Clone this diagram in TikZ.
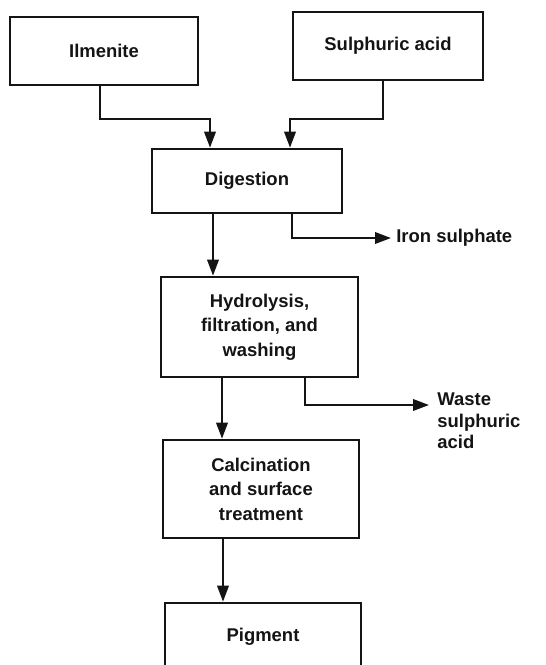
\documentclass[tikz,border=0pt]{standalone}
\usepackage{fontspec}
\setmainfont{Liberation Sans}
\usetikzlibrary{arrows.meta}
\definecolor{ink}{RGB}{20, 20, 20}

\begin{document}
\begin{tikzpicture}[
        stage/.style   = {draw=ink, line width=1.5pt, align=center, inner sep=0pt,
                          font=\fontsize{10.5}{14}\selectfont\bfseries, text=ink},
        product/.style = {align=left, inner sep=0pt,
                          font=\fontsize{10.5}{12.5}\selectfont\bfseries, text=ink},
        flow/.style    = {draw=ink, line width=1.2pt, -{Triangle[length=3.2mm, width=2.3mm]}}
    ]
            \useasboundingbox                                   ( 0.00,  0.00) rectangle ( 10.90, -13.30);
            \node[stage, minimum width=3.76cm, minimum height=1.36cm] (ilm)   at ( 2.08, -1.02) {Ilmenite};
            \node[stage, minimum width=3.80cm, minimum height=1.36cm] (acid)  at ( 7.76, -0.92) {Sulphuric acid};
            \node[stage, minimum width=3.80cm, minimum height=1.28cm] (dig)   at ( 4.94, -3.62) {Digestion};
            \node[stage, minimum width=3.94cm, minimum height=2.00cm] (hyd)   at ( 5.19, -6.54) {Hydrolysis,\\ filtration, and\\ washing};
            \node[stage, minimum width=3.92cm, minimum height=1.96cm] (cal)   at ( 5.22, -9.78) {Calcination\\ and surface\\ treatment};
            \node[stage, minimum width=3.92cm, minimum height=1.36cm] (pig)   at ( 5.26,-12.74) {Pigment};
            \node[product, anchor=west]                               (iron)  at ( 7.92, -4.76) {Iron sulphate};
            \node[product, anchor=north west]                         (waste) at ( 8.74, -7.84) {Waste\\ sulphuric\\ acid};

            \draw[flow] ([xshift=-0.08cm]ilm.south)  -- ++(0,-0.66) -| ([xshift=-0.74cm]dig.north);
            \draw[flow] ([xshift=-0.10cm]acid.south) -- ++(0,-0.76) -| ([xshift= 0.86cm]dig.north);
            \draw[flow] ([xshift=-0.68cm]dig.south)  -- ([xshift=-0.68cm]dig.south |- hyd.north);
            \draw[flow] ([xshift= 0.90cm]dig.south)  |- ([xshift=-0.10cm]iron.west);
            \draw[flow] ([xshift=-0.75cm]hyd.south)  -- ([xshift=-0.75cm]hyd.south |- cal.north);
            \draw[flow] ([xshift= 0.91cm]hyd.south)  |- ([xshift=-0.16cm, yshift=-0.26cm]waste.north west);
            \draw[flow] ([xshift=-0.76cm]cal.south)  -- ([xshift=-0.76cm]cal.south |- pig.north);
        \end{tikzpicture}
\end{document}
